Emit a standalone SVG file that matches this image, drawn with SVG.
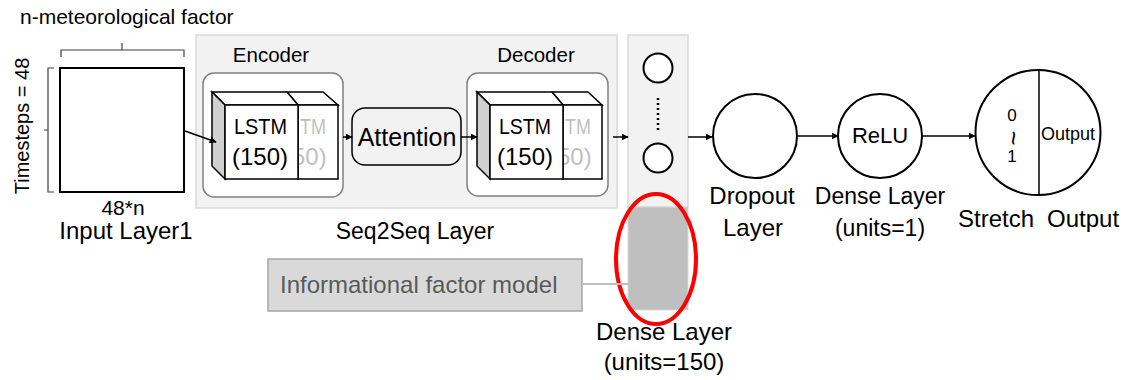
<svg xmlns="http://www.w3.org/2000/svg" width="1127" height="380" viewBox="0 0 1127 380">
  <style>
    text { font-family: "Liberation Sans", "Noto Sans", sans-serif; fill: #000; }
    .lbl { font-size: 24px; }
    .sm { font-size: 20.5px; }
    .cell { font-size: 22px; }
    .mid { text-anchor: middle; }
    .ghost { fill: #bfbfbf; }
    .edge { stroke: #000; stroke-width: 1.5; fill: none; marker-end: url(#arrow); }
    .node { fill: #fff; stroke: #000; stroke-width: 2; }
    .face { fill: #fff; stroke: #000; stroke-width: 1.5; }
    .side { fill: #d0d0d0; stroke: #000; stroke-width: 1.5; }
    .brace { fill: none; stroke: #404040; stroke-width: 1.2; }
  </style>
  <defs>
    <marker id="arrow" viewBox="0 0 10 10" refX="9" refY="5" markerWidth="7" markerHeight="7" orient="auto" markerUnits="userSpaceOnUse">
      <path d="M0,0 L10,5 L0,10 z" fill="#000"/>
    </marker>
    <clipPath id="encBack"><rect x="299" y="90" width="40" height="90"/></clipPath>
    <clipPath id="decBack"><rect x="564" y="90" width="40" height="90"/></clipPath>
  </defs>
  <rect width="1127" height="380" fill="#fff"/>

  <!-- input layer -->
  <g id="input">
    <text x="20" y="24" style="font-size:21px">n-meteorological factor</text>
    <path class="brace" d="M61,57 V50 H122 V43 M122,50 H184 V57"/>
    <path class="brace" d="M54,68 H48 V130 H44 M48,130 V192 H54"/>
    <text class="mid" transform="translate(29,126) rotate(-90)" style="font-size:20px">Timesteps = 48</text>
    <rect x="60" y="68" width="124" height="124" fill="#fff" stroke="#000" stroke-width="2"/>
    <text class="mid" x="123" y="215" style="font-size:21px">48*n</text>
    <text class="lbl mid" x="126" y="239">Input Layer1</text>
  </g>

  <!-- seq2seq layer -->
  <g id="seq2seq">
    <rect x="196" y="35" width="421" height="173" fill="#f2f2f2" stroke="#d9d9d9" stroke-width="1.5"/>
    <text class="mid" x="415" y="239" style="font-size:23px">Seq2Seq Layer</text>
  </g>

  <g id="encoder">
    <text class="sm mid" x="271" y="62">Encoder</text>
    <rect x="203" y="73" width="140" height="124" rx="11" fill="#fff" stroke="#808080" stroke-width="1.5"/>
    <!-- back block -->
    <polygon class="face" points="287,92 323,92 338,105 298,105"/>
    <rect class="face" x="298" y="105" width="40" height="74"/>
    <text class="cell ghost" x="300" y="134" textLength="26" lengthAdjust="spacingAndGlyphs">TM</text>
    <text class="ghost" clip-path="url(#encBack)" x="292" y="165" style="font-size:24px">50)</text>
    <!-- front block -->
    <polygon class="face" points="212,92 287,92 298,105 225,105"/>
    <polygon class="side" points="212,92 225,105 225,179 212,166"/>
    <rect class="face" x="225" y="105" width="73" height="74"/>
    <text class="cell" x="234" y="134" textLength="53" lengthAdjust="spacingAndGlyphs">LSTM</text>
    <text x="232" y="165" style="font-size:24px">(150)</text>
  </g>

  <g id="attention">
    <rect x="352" y="108" width="109" height="57" rx="13" fill="#f2f2f2" stroke="#000" stroke-width="1.5"/>
    <text class="mid" x="407" y="146" style="font-size:25px">Attention</text>
  </g>

  <g id="decoder">
    <text class="sm mid" x="536" y="62">Decoder</text>
    <rect x="467" y="73" width="141" height="123" rx="11" fill="#fff" stroke="#808080" stroke-width="1.5"/>
    <polygon class="face" points="552,92 588,92 602,105 563,105"/>
    <rect class="face" x="563" y="105" width="39" height="74"/>
    <text class="cell ghost" x="565" y="134" textLength="26" lengthAdjust="spacingAndGlyphs">TM</text>
    <text class="ghost" clip-path="url(#decBack)" x="557" y="165" style="font-size:24px">50)</text>
    <polygon class="face" points="477,92 552,92 563,105 490,105"/>
    <polygon class="side" points="477,92 490,105 490,179 477,166"/>
    <rect class="face" x="490" y="105" width="73" height="74"/>
    <text class="cell" x="499" y="134" textLength="52" lengthAdjust="spacingAndGlyphs">LSTM</text>
    <text x="497" y="165" style="font-size:24px">(150)</text>
  </g>

  <!-- dense layer (units=150) -->
  <g id="dense150">
    <rect x="628" y="35" width="60" height="172" fill="#f2f2f2" stroke="#d9d9d9" stroke-width="1.5"/>
    <rect x="628" y="207" width="60" height="103" fill="#bfbfbf" stroke="#d9d9d9" stroke-width="1"/>
    <circle class="node" cx="658" cy="68" r="14.5"/>
    <circle class="node" cx="658" cy="158" r="14.5"/>
    <line x1="658" y1="98" x2="658" y2="130" stroke="#000" stroke-width="2.5" stroke-dasharray="2 3"/>
    <ellipse cx="656" cy="259" rx="40" ry="65" fill="none" stroke="#ff0000" stroke-width="4"/>
    <text class="lbl mid" x="664" y="340">Dense Layer</text>
    <text class="lbl mid" x="664" y="370">(units=150)</text>
  </g>

  <g id="infofactor">
    <rect x="268" y="259" width="314" height="52" fill="#d9d9d9" stroke="#a6a6a6" stroke-width="1.5"/>
    <text class="lbl" x="280" y="293" style="fill:#595959">Informational factor model</text>
  </g>

  <g id="dropout">
    <circle class="node" cx="755" cy="136" r="42"/>
    <text class="lbl mid" x="752" y="204">Dropout</text>
    <text class="lbl mid" x="753" y="236">Layer</text>
  </g>

  <g id="dense1">
    <circle class="node" cx="880" cy="136" r="42"/>
    <text class="mid" x="880" y="143" style="font-size:22px">ReLU</text>
    <text class="mid" x="880" y="204" style="font-size:23px">Dense Layer</text>
    <text class="mid" x="880" y="236" style="font-size:23px">(units=1)</text>
  </g>

  <g id="output">
    <circle class="node" cx="1038" cy="132.5" r="62.5"/>
    <line x1="1039" y1="70" x2="1039" y2="195" stroke="#000" stroke-width="1.5"/>
    <text class="mid" x="1012" y="121" style="font-size:17px">0</text>
    <text class="mid" transform="translate(1012,138) rotate(90)" dy="7" style="font-size:26px">~</text>
    <text class="mid" x="1012" y="162" style="font-size:17px">1</text>
    <text x="1041" y="140" style="font-size:18px">Output</text>
    <text class="lbl" x="958" y="227">Stretch</text>
    <text class="lbl" x="1047" y="227">Output</text>
  </g>

  <!-- connectors -->
  <g id="connectors">
    <line class="edge" x1="185" y1="131" x2="216" y2="142"/>
    <line class="edge" x1="343" y1="137" x2="352" y2="137"/>
    <line class="edge" x1="461" y1="137" x2="477" y2="137"/>
    <line class="edge" x1="613" y1="137" x2="628" y2="137"/>
    <line class="edge" x1="688" y1="137" x2="712" y2="137"/>
    <line class="edge" x1="797" y1="136" x2="838" y2="136"/>
    <line class="edge" x1="922" y1="136" x2="975" y2="136"/>
    <line x1="582" y1="284" x2="629" y2="284" stroke="#bfbfbf" stroke-width="2"/>
  </g>
</svg>
